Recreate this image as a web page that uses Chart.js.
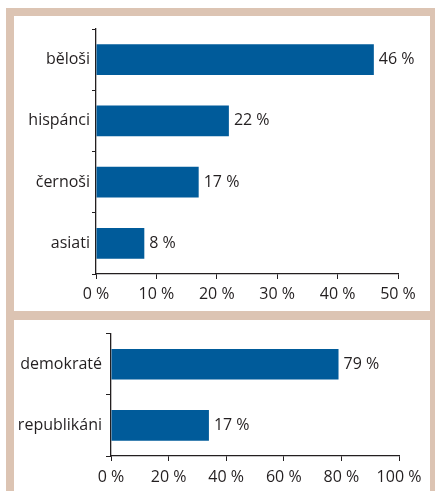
<!DOCTYPE html>
<html>
<head>
<meta charset="utf-8">
<script src="https://cdn.jsdelivr.net/npm/chart.js@4/dist/chart.umd.min.js"></script>
<style>
  body { margin: 0; background: #fff; width: 435px; height: 491px; overflow: hidden; position: relative; }
  #frame { position: absolute; left: 6px; top: 8px; width: 440px; height: 500px; background: #dcc4b3; }
  .panel { position: absolute; left: 14px; width: 416px; background: #fff; }
  #p1 { top: 16px; height: 295px; }
  #p2 { top: 320px; height: 171px; }
  canvas { display: block; }
</style>
</head>
<body>
<div id="frame"></div>
<div class="panel" id="p1"><canvas id="ethnic" width="416" height="295"></canvas></div>
<div class="panel" id="p2"><canvas id="party" width="416" height="171"></canvas></div>
<script>
// ---- data ----
const ethnicCats = ['běloši', 'hispánci', 'černoši', 'asiati'];
const ethnicValues = [46, 22, 17, 8];
const ethnicLabels = ['46 %', '22 %', '17 %', '8 %'];
const ethnicTicks = ['0 %', '10 %', '20 %', '30 %', '40 %', '50 %'];

const partyCats = ['demokraté', 'republikáni'];
const partyValues = [79, 34];          // bar lengths as drawn
const partyLabels = ['79 %', '17 %'];  // labels as printed
const partyTicks = ['0 %', '20 %', '40 %', '60 %', '80 %', '100 %'];

const ink = '#231f20';
const barBlue = '#005b9a';
const font = { family: '"Open Sans", sans-serif', size: 16 };

// value labels at the end of each bar
const valueLabels = {
  id: 'valueLabels',
  afterDatasetsDraw(chart, args, opts) {
    const ctx = chart.ctx;
    ctx.save();
    ctx.font = '16px "Open Sans", sans-serif';
    ctx.fillStyle = ink;
    ctx.textBaseline = 'middle';
    chart.getDatasetMeta(0).data.forEach((bar, i) => {
      ctx.fillText(opts.texts[i], bar.x + 5, bar.y);
    });
    ctx.restore();
  }
};

function makeChart(id, cats, values, texts, ticks, max, step, dims) {
  return new Chart(document.getElementById(id).getContext('2d'), {
    type: 'bar',
    data: {
      labels: cats,
      datasets: [{
        data: values,
        backgroundColor: barBlue,
        barPercentage: 0.5,
        categoryPercentage: 1
      }]
    },
    options: {
      indexAxis: 'y',
      responsive: false,
      animation: false,
      layout: { padding: { top: dims.top, right: dims.right, left: 0, bottom: 0 } },
      plugins: {
        legend: { display: false },
        tooltip: { enabled: false },
        valueLabels: { texts: texts }
      },
      scales: {
        y: {
          grid: { offset: true, drawOnChartArea: false, tickLength: dims.yTick, color: ink, lineWidth: 1 },
          border: { color: ink, width: 1.3 },
          ticks: { color: ink, font: font, padding: dims.yPad },
          afterFit: s => { s.width = dims.yWidth; }
        },
        x: {
          min: 0,
          max: max,
          grid: { drawOnChartArea: false, tickLength: 5, color: ink, lineWidth: 1 },
          border: { color: ink, width: 1.3 },
          ticks: {
            stepSize: step,
            color: ink,
            font: font,
            padding: dims.xPad,
            maxRotation: 0,
            callback: (v, i) => ticks[i]
          },
          afterFit: s => { s.height = dims.xHeight; }
        }
      }
    },
    plugins: [valueLabels]
  });
}

makeChart('ethnic', ethnicCats, ethnicValues, ethnicLabels, ethnicTicks, 50, 10,
  { top: 13, right: 32, yWidth: 82, xHeight: 37, yTick: 4, yPad: 2, xPad: 6 });
makeChart('party', partyCats, partyValues, partyLabels, partyTicks, 100, 20,
  { top: 13, right: 31, yWidth: 97, xHeight: 35, yTick: 5, yPad: 4, xPad: 7 });
</script>
</body>
</html>
